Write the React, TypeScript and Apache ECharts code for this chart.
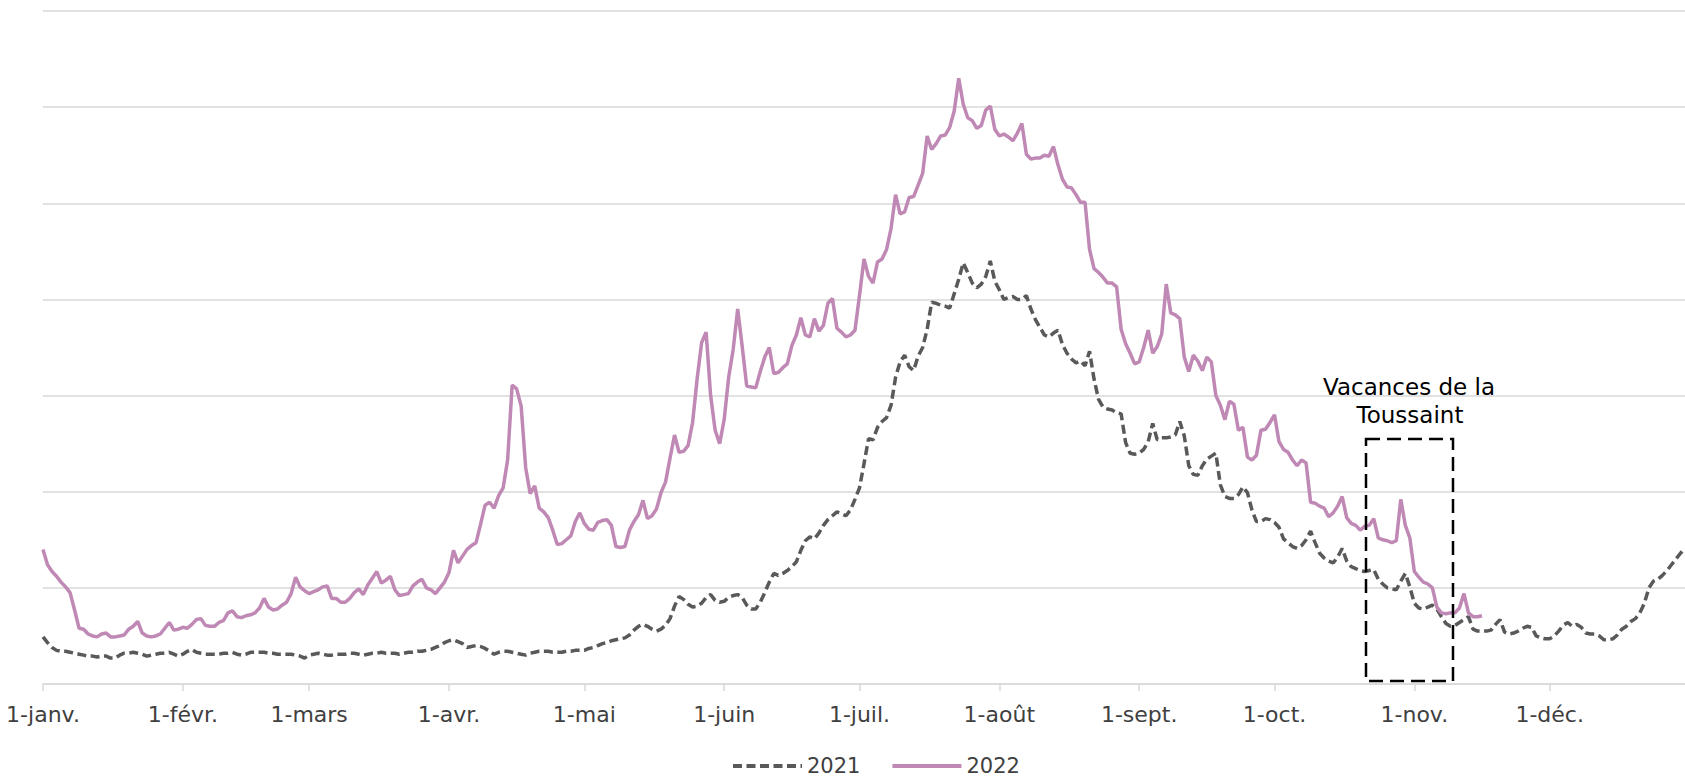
import React, { useEffect, useRef } from 'react';
import * as echarts from 'echarts';

const monthNames = ['janv.', 'févr.', 'mars', 'avr.', 'mai', 'juin', 'juil.', 'août', 'sept.', 'oct.', 'nov.', 'déc.'];
const monthLengths = [31, 28, 31, 30, 31, 30, 31, 31, 30, 31, 30, 31];

const categories: string[] = [];
monthNames.forEach((m, i) => {
  for (let d = 1; d <= monthLengths[i]; d++) categories.push(`${d}-${m}`);
});

const values2021 = [
  49, 43, 38, 35, 34, 34, 33, 32, 31, 30,
  29, 29, 28, 29, 29, 27, 27, 30, 32, 32,
  33, 32, 31, 29, 30, 31, 32, 32, 33, 31,
  29, 31, 34, 36, 33, 32, 31, 31, 31, 31,
  32, 32, 33, 31, 30, 31, 33, 33, 33, 33,
  32, 32, 31, 31, 31, 31, 30, 29, 27, 30,
  31, 32, 31, 30, 30, 31, 31, 31, 32, 32,
  31, 30, 31, 32, 32, 33, 32, 32, 32, 31,
  32, 33, 33, 34, 34, 35, 36, 38, 40, 43,
  45, 46, 44, 42, 38, 39, 40, 39, 37, 34,
  31, 33, 34, 34, 33, 32, 31, 30, 32, 33,
  34, 34, 34, 33, 33, 33, 34, 34, 35, 35,
  35, 37, 38, 40, 42, 43, 45, 46, 47, 48,
  51, 56, 60, 62, 60, 57, 55, 57, 61, 68,
  81, 91, 88, 83, 80, 81, 84, 90, 93, 87,
  85, 86, 90, 92, 93, 90, 82, 78, 78, 85,
  95, 106, 115, 113, 115, 118, 122, 127, 139, 149,
  153, 151, 157, 165, 171, 175, 179, 177, 175, 181,
  192, 204, 229, 255, 254, 267, 273, 277, 290, 319,
  335, 342, 330, 326, 341, 350, 369, 397, 396, 394,
  393, 391, 406, 421, 438, 428, 417, 412, 416, 424,
  440, 419, 410, 400, 402, 403, 400, 400, 404, 390,
  379, 371, 363, 361, 365, 368, 353, 344, 338, 334,
  336, 331, 346, 317, 296, 288, 286, 285, 282, 281,
  251, 240, 239, 240, 244, 252, 271, 254, 256, 256,
  257, 259, 273, 258, 227, 218, 217, 227, 234, 237,
  240, 207, 195, 193, 193, 197, 205, 199, 181, 169,
  169, 172, 171, 168, 163, 151, 147, 143, 141, 144,
  150, 159, 147, 136, 131, 128, 126, 132, 141, 128,
  122, 120, 118, 117, 118, 119, 109, 104, 100, 99,
  98, 107, 115, 101, 84, 79, 78, 80, 82, 78,
  70, 63, 60, 61, 64, 67, 70, 57, 55, 55,
  55, 56, 62, 67, 54, 52, 53, 55, 58, 60,
  59, 50, 48, 47, 47, 50, 55, 61, 64, 60,
  62, 59, 53, 52, 52, 50, 46, 46, 47, 51,
  57, 60, 65, 68, 74, 84, 100, 107, 109, 113,
  118, 124, 130, 136, 141,
];

const values2022 = [
  140, 124, 117, 112, 106, 101, 95, 77, 58, 57,
  52, 50, 49, 52, 53, 49, 49, 50, 51, 57,
  60, 65, 53, 50, 49, 50, 52, 58, 64, 56,
  57, 59, 58, 62, 67, 68, 61, 60, 60, 64,
  66, 74, 76, 70, 69, 71, 72, 74, 79, 89,
  80, 77, 78, 82, 85, 94, 111, 101, 97, 94,
  96, 98, 101, 102, 89, 89, 85, 85, 89, 95,
  99, 93, 103, 110, 117, 105, 108, 112, 98, 92,
  93, 94, 102, 106, 109, 100, 98, 94, 100, 106,
  116, 139, 126, 133, 140, 144, 147, 166, 186, 189,
  183, 196, 204, 233, 311, 307, 289, 225, 198, 206,
  183, 179, 173, 160, 145, 146, 150, 154, 169, 178,
  167, 161, 160, 168, 170, 171, 165, 143, 142, 143,
  160, 169, 176, 191, 172, 175, 182, 199, 210, 235,
  259, 241, 242, 248, 272, 317, 355, 366, 300, 264,
  250, 275, 319, 348, 390, 351, 310, 309, 308, 325,
  340, 350, 323, 324, 329, 333, 352, 363, 381, 363,
  361, 380, 367, 373, 396, 401, 370, 366, 361, 363,
  368, 404, 442, 424, 417, 439, 442, 452, 474, 509,
  489, 491, 506, 507, 519, 531, 570, 556, 562, 570,
  571, 579, 596, 630, 603, 589, 586, 578, 581, 597,
  601, 577, 570, 572, 569, 565, 573, 583, 551, 546,
  547, 547, 550, 549, 559, 540, 525, 517, 516, 509,
  501, 501, 452, 432, 428, 423, 417, 417, 413, 369,
  354, 344, 333, 335, 350, 368, 344, 351, 364, 416,
  386, 384, 380, 340, 325, 342, 336, 326, 340, 335,
  300, 290, 275, 294, 291, 264, 267, 236, 233, 238,
  264, 265, 272, 280, 252, 244, 241, 233, 227, 233,
  230, 189, 188, 185, 183, 174, 178, 185, 195, 173,
  167, 165, 160, 164, 165, 172, 152, 150, 149, 147,
  149, 192, 165, 152, 117, 111, 106, 104, 100, 80,
  74, 73, 74, 74, 79, 94, 74, 70, 70, 71,
];

const seriesNames = ['2021', '2022'];
const annotationLines = ['Vacances de la', 'Toussaint'];
const FONT = 'DejaVu Sans';

export default function App() {
  const ref = useRef<HTMLDivElement>(null);
  useEffect(() => {
    const chart = echarts.init(ref.current!, null, { renderer: 'svg' });
    const isMonthStart = (_i: number, v: string) => v.startsWith('1-');
    chart.setOption({
      animation: false,
      backgroundColor: '#ffffff',
      grid: { left: 43, right: -4, top: 11, bottom: 94 },
      xAxis: {
        type: 'category',
        data: categories,
        boundaryGap: false,
        axisLine: { lineStyle: { color: '#d9d9d9', width: 1.5 } },
        axisTick: { interval: isMonthStart, length: 7, lineStyle: { color: '#d9d9d9', width: 1.5 } },
        axisLabel: { interval: isMonthStart, color: '#404040', fontSize: 22, fontFamily: FONT, margin: 19 },
        splitLine: { show: false },
      },
      yAxis: {
        type: 'value',
        min: 0,
        max: 700,
        interval: 100,
        axisLabel: { show: false },
        axisLine: { show: false },
        axisTick: { show: false },
        splitLine: { lineStyle: { color: '#d9d9d9', width: 1.5 } },
      },
      legend: {
        data: seriesNames,
        left: 731,
        top: 755,
        padding: 0,
        itemWidth: 69,
        itemHeight: 14,
        itemGap: 30,
        itemStyle: { opacity: 0 },
        lineStyle: { width: 4 },
        textStyle: { fontSize: 21, lineHeight: 22, color: '#404040', fontFamily: FONT },
      },
      series: [
        {
          name: seriesNames[0],
          type: 'line',
          data: values2021,
          symbol: 'none',
          lineStyle: { color: '#595959', width: 3.5, type: [9, 4.5] },
          itemStyle: { color: '#595959' },
        },
        {
          name: seriesNames[1],
          type: 'line',
          data: values2022,
          symbol: 'none',
          lineStyle: { color: '#C088B4', width: 3.5 },
          itemStyle: { color: '#C088B4' },
        },
      ],
      graphic: [
        {
          type: 'rect',
          shape: { x: 1366, y: 439, width: 87, height: 242 },
          style: { fill: 'none', stroke: '#000000', lineWidth: 2.5, lineDash: [14, 7] },
          z: 10,
        },
        {
          type: 'text',
          x: 1409,
          y: 387,
          style: {
            text: annotationLines[0], fontSize: 23, fontFamily: FONT, fill: '#000000',
            textAlign: 'center', textVerticalAlign: 'middle', align: 'center', verticalAlign: 'middle',
          },
          z: 10,
        },
        {
          type: 'text',
          x: 1410,
          y: 415,
          style: {
            text: annotationLines[1], fontSize: 23, fontFamily: FONT, fill: '#000000',
            textAlign: 'center', textVerticalAlign: 'middle', align: 'center', verticalAlign: 'middle',
          },
          z: 10,
        },
      ],
    });
    return () => chart.dispose();
  }, []);
  return <div ref={ref} style={{ position: 'fixed', left: 0, top: 0, width: 1685, height: 778 }} />;
}
